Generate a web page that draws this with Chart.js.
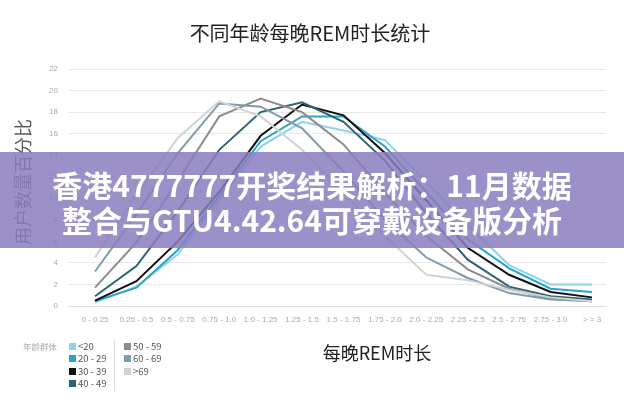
<!DOCTYPE html>
<html><head><meta charset="utf-8">
<script src="https://cdn.jsdelivr.net/npm/chart.js@4"></script>
<style>
html,body{margin:0;padding:0;background:#fff;}
#wrap{position:relative;width:624px;height:400px;overflow:hidden;font-family:"Noto Sans CJK SC","Noto Sans",sans-serif;}
canvas{position:absolute;left:0;top:0;}
.t{position:absolute;white-space:nowrap;}
#title{left:0;width:620px;top:20px;text-align:center;font-size:20px;color:#222;line-height:26px;}
#ytitle{left:22px;top:182px;font-size:18px;color:#555;transform:translate(-50%,-50%) rotate(-90deg);}
#xtitle{left:377px;top:352px;font-size:18px;color:#222;transform:translate(-50%,-50%);}
#legHead{left:23px;top:340px;font-size:8.5px;color:#aaa;}
.li{position:absolute;font-size:9.5px;color:#555;white-space:nowrap;line-height:12px;}
.sw{display:inline-block;width:7px;height:7px;margin-right:2px;vertical-align:0px;}
#sep{position:absolute;left:114px;top:340px;width:1px;height:50px;background:#ddd;}
#banner{position:absolute;left:0;top:152px;width:624px;height:96px;background:rgba(138,126,190,0.85);}
.bl{position:absolute;left:0;width:624px;text-align:center;color:#fff;font-weight:700;font-size:30px;line-height:34px;}
</style></head>
<body><div id="wrap">
<canvas id="c" width="624" height="400"></canvas>
<div class="t" id="title">不同年龄每晚REM时长统计</div>
<div class="t" id="ytitle">用户数量百分比</div>
<div class="t" id="xtitle">每晚REM时长</div>
<div class="t" id="legHead">年龄群体</div>
<div id="sep"></div>
<div id="legend"></div>
<div id="banner">
<div class="bl" style="top:15px">香港4777777开奖结果解析：11月数据</div>
<div class="bl" style="top:50px">整合与GTU4.42.64可穿戴设备版分析</div>
</div>
</div>
<script>
const categories = ["0 - 0.25","0.25 - 0.5","0.5 - 0.75","0.75 - 1.0","1.0 - 1.25","1.25 - 1.5","1.5 - 1.75","1.75 - 2.0","2.0 - 2.25","2.25 - 2.5","2.5 - 2.75","2.75 - 3.0","> = 3"];
const yTicks = [0,2,4,6,8,10,12,14,16,18,20,22];
const seriesNames = ["<20","20 - 29","30 - 39","40 - 49","50 - 59","60 - 69",">69"];
const under20   = [0.35,1.8,4.8,9.8,14.8,17.1,16.3,15.4,11.5,7.5,3.8,2.0,2.0];
const age20_29  = [0.45,1.7,5.2,10.2,15.3,17.6,17.6,14.8,10.6,6.2,3.5,1.6,1.3];
const age30_39  = [0.5,2.3,6.0,10.6,15.8,18.7,17.7,14.2,9.8,5.4,2.9,1.3,0.8];
const age40_49  = [0.9,3.7,8.8,14.5,18.0,18.9,17.1,13.5,8.6,4.3,1.8,0.9,0.6];
const age50_59  = [1.7,5.9,11.6,17.6,19.25,18.0,15.0,10.5,6.5,3.4,1.6,0.7,0.45];
const age60_69  = [3.2,8.5,14.2,18.8,18.5,16.5,12.5,8.0,4.5,2.6,1.2,0.6,0.45];
const over69    = [4.5,10.3,15.6,19.0,17.6,14.5,10.5,6.5,2.9,2.4,1.5,0.8,0.45];
const seriesData = [under20,age20_29,age30_39,age40_49,age50_59,age60_69,over69];
const colors = ["#8fd3ea","#2aa4c6","#111111","#2b6377","#8c8c8c","#7f9aab","#d2d2d2"];

// legend
const leg = document.getElementById('legend');
seriesNames.forEach((n,i)=>{
  const d=document.createElement('div');d.className='li';
  const col = i<4?0:1, row = i<4?i:i-4;
  d.style.left=(col?124:69)+'px'; d.style.top=(340+row*12.4)+'px';
  d.innerHTML='<span class="sw" style="background:'+colors[i]+'"></span>'+n.replace('<','&lt;').replace('>','&gt;');
  leg.appendChild(d);
});

const datasets = seriesData.map((arr,k)=>({
  label: seriesNames[k],
  data: arr.map((v,i)=>({x:i,y:v})),
  borderColor: colors[k],
  backgroundColor: colors[k],
  borderWidth: 2,
  pointRadius: 0,
  tension: 0,
  fill: false
})).reverse();

new Chart(document.getElementById('c'),{
  type:'line',
  data:{datasets},
  options:{
    responsive:false,animation:false,
    layout:{padding:{left:0,top:69,right:18,bottom:0}},
    plugins:{legend:{display:false},title:{display:false},tooltip:{enabled:false}},
    scales:{
      x:{type:'linear',min:-0.652,max:12.338,
        afterBuildTicks:s=>{s.ticks=categories.map((c,i)=>({value:i}));},
        afterFit:s=>{s.height=94;},
        grid:{display:false,drawTicks:false},
        border:{display:true,color:'#e0e0e0'},
        ticks:{autoSkip:false,maxRotation:0,padding:9,color:'#aaa',font:{size:8,family:'"Liberation Sans",sans-serif'},callback:v=>categories[v]}
      },
      y:{min:0,max:22,
        afterBuildTicks:s=>{s.ticks=yTicks.map(v=>({value:v}));},
        afterFit:s=>{s.width=68;},
        grid:{color:'#e8e8e8',drawTicks:false},
        border:{display:false},
        ticks:{padding:10,color:'#aaa',font:{size:8,family:'"Liberation Sans",sans-serif'}}
      }
    }
  }
});
</script>
</body></html>
